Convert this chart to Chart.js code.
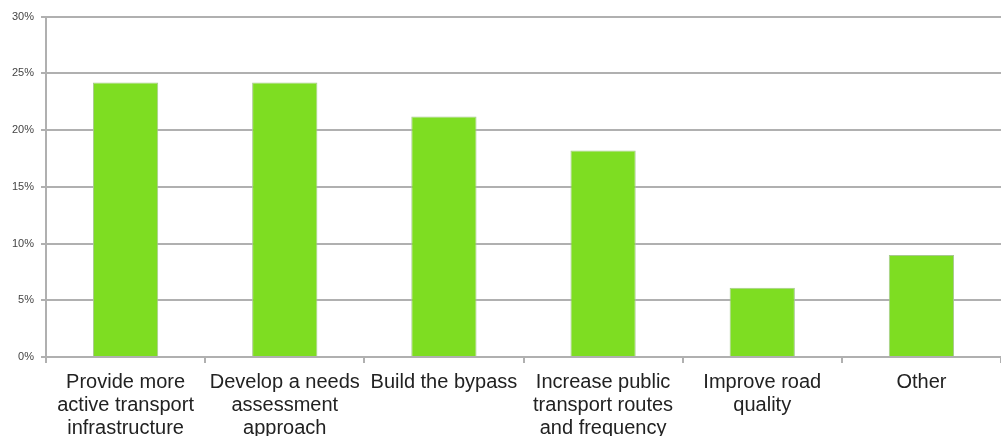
<!DOCTYPE html>
<html>
<head>
<meta charset="utf-8">
<script src="https://cdn.jsdelivr.net/npm/chart.js@4"></script>
<style>
html,body{margin:0;padding:0;background:#fff;overflow:hidden;}
#wrap{width:1001px;height:445px;position:relative;top:3px;}
</style>
</head>
<body>
<div id="wrap"><canvas id="c"></canvas></div>
<script>
const categories = [
  ["Provide more", "active transport", "infrastructure"],
  ["Develop a needs", "assessment", "approach"],
  ["Build the bypass"],
  ["Increase public", "transport routes", "and frequency"],
  ["Improve road", "quality"],
  ["Other"]
];
const values = [24.2, 24.2, 21.2, 18.2, 6.1, 9.0];
const yTicks = [0, 5, 10, 15, 20, 25, 30];

new Chart(document.getElementById('c'), {
  type: 'bar',
  data: {
    labels: categories,
    datasets: [{
      data: values,
      backgroundColor: '#7edd22',
      borderColor: '#a8c890',
      borderWidth: 1,
      barPercentage: 0.41,
      categoryPercentage: 1.0
    }]
  },
  options: {
    responsive: true,
    maintainAspectRatio: false,
    animation: false,
    layout: { padding: { top: 0, right: 0, left: 0, bottom: 0 } },
    plugins: { legend: { display: false }, tooltip: { enabled: false } },
    scales: {
      x: {
        offset: true,
        grid: { offset: true, drawOnChartArea: false, drawTicks: true, tickLength: 6, color: '#b0b0b0', lineWidth: 2 },
        border: { display: true, color: '#b0b0b0', width: 2 },
        ticks: {
          color: '#222',
          padding: 8,
          maxRotation: 0,
          autoSkip: false,
          font: { family: 'Liberation Sans, Arial, sans-serif', size: 20, lineHeight: 1.15 }
        }
      },
      y: {
        min: 0, max: 30,
        afterFit: s => { s.width = 46; },
        afterBuildTicks: s => { s.ticks = yTicks.map(v => ({ value: v })); },
        grid: { color: '#b0b0b0', lineWidth: 2, tickLength: 5 },
        border: { display: true, color: '#b0b0b0', width: 2 },
        ticks: {
          color: '#444',
          padding: 7,
          callback: v => v + '%',
          font: { family: 'Liberation Sans, Arial, sans-serif', size: 11 }
        }
      }
    }
  }
});
</script>
</body>
</html>
